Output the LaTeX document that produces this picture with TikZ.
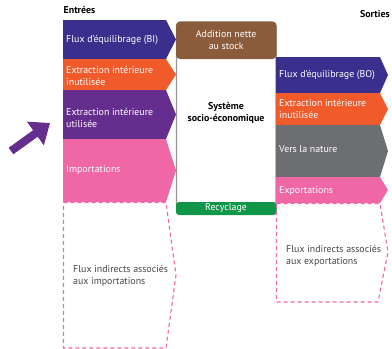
\documentclass[tikz,border=0pt]{standalone}
\usepackage{fontspec}
\setmainfont{PT Sans}
\usetikzlibrary{arrows.meta}
\definecolor{cblue}{RGB}{58,47,140}
\definecolor{corange}{RGB}{241,90,43}
\definecolor{cpurple}{RGB}{101,45,142}
\definecolor{cpink}{RGB}{240,103,166}
\definecolor{cbrown}{RGB}{139,92,60}
\definecolor{cgray}{RGB}{109,110,113}
\definecolor{cgreen}{RGB}{16,150,72}
\definecolor{cframe}{RGB}{150,150,150}
\definecolor{ctext}{RGB}{70,70,70}
% segment with a pointed right side: colour, left x, body right x, tip x, top y, bottom y
\newcommand\flowseg[6]{\fill[#1] (#2,#5) -- (#3,#5) -- (#4,{(#5+#6)/2}) -- (#3,#6) -- (#2,#6) -- cycle;}
\tikzset{
  seglabel/.style={anchor=west, text=white, font=\fontsize{9.9}{12}\selectfont, align=left, inner sep=0pt},
  midlabel/.style={anchor=center, text=white, font=\fontsize{9.9}{12}\selectfont, align=center, inner sep=0pt},
  indirect/.style={draw=cpink, dashed, dash pattern=on 4pt off 3pt, line width=1.1pt},
  headlabel/.style={font=\bfseries\fontsize{9.9}{12}\selectfont, inner sep=0pt},
}
\begin{document}
\begin{tikzpicture}[x=1pt, y=-1pt]
\useasboundingbox (0,0) rectangle (392,349);
% central system frame
\draw[cframe, line width=1.3pt, rounded corners=4pt] (176.5,22) rectangle (276,214);
\fill[cbrown, rounded corners=4pt] (176,21.5) -- (276.5,21.5) -- (276.5,59) -- (176,59) -- cycle;
\fill[cgreen, rounded corners=3pt] (176,202) rectangle (276.5,215);
\node[midlabel] (stock) at (226.2,40) {Addition nette\\au stock};
\node[headlabel, align=center] (sys) at (226,113) {Système\\socio-économique};
\node[midlabel] (recy) at (226,208.5) {Recyclage};
% inputs
\flowseg{cblue}{63}{166}{176}{20}{59}
\flowseg{corange}{63}{166}{176}{59}{90}
\flowseg{cpurple}{63}{166}{176}{90}{139}
\flowseg{cpink}{63}{166}{176}{139}{202}
\draw[indirect] (63.5,202.5) -- (166,202.5) -- (176,275) -- (166,348) -- (63.5,348) -- cycle;
\node[headlabel, anchor=west] (in) at (63.5,10) {Entrées};
\node[seglabel] (bi) at (66,40) {Flux d’équilibrage (BI)};
\node[seglabel] (eiu) at (66,75.5) {Extraction intérieure\\inutilisée};
\node[seglabel] (eu) at (66,118) {Extraction intérieure\\utilisée};
\node[seglabel] (imp) at (66,170) {Importations};
\node[seglabel, text=ctext] (fii) at (73,276) {Flux indirects associés\\aux importations};
% outputs
\flowseg{cblue}{276}{380}{388}{57}{93}
\flowseg{corange}{276}{380}{388}{93}{125}
\flowseg{cgray}{276}{380}{388}{125}{177}
\flowseg{cpink}{276}{380}{388}{177}{203}
\draw[indirect] (276.5,203.5) -- (380,203.5) -- (388,252) -- (378,302) -- (276.5,302) -- cycle;
\node[headlabel, anchor=east] (out) at (390,14) {Sorties};
\node[seglabel] (bo) at (279,75) {Flux d’équilibrage (BO)};
\node[seglabel] (eio) at (279,108.5) {Extraction intérieure\\inutilisée};
\node[seglabel] (nat) at (279,149) {Vers la nature};
\node[seglabel] (exp) at (279,190.5) {Exportations};
\node[seglabel, text=ctext] (fie) at (286,256) {Flux indirects associés\\aux exportations};
% pointer arrow
\coordinate (ptail) at (11,151);
\coordinate (phead) at (50,123);
\draw[cpurple, line width=8pt, -{Triangle[length=18pt, width=28pt]}] (ptail) -- (phead);
\end{tikzpicture}
\end{document}
